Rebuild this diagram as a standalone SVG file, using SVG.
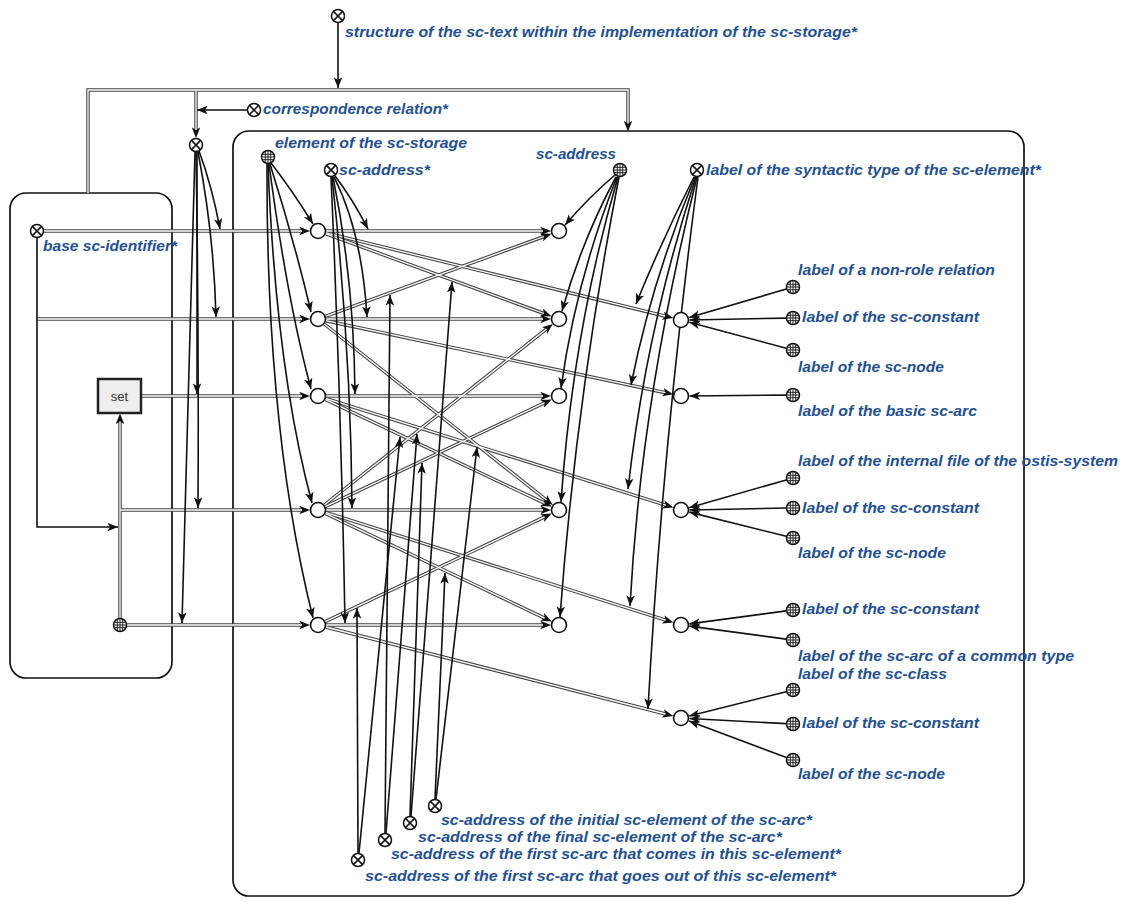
<svg xmlns="http://www.w3.org/2000/svg" xmlns:xlink="http://www.w3.org/1999/xlink" width="1127" height="903" viewBox="0 0 1127 903">
<style>
.lbl{font-family:"Liberation Sans",Arial,sans-serif;font-weight:bold;font-style:italic;font-size:15px;fill:#24508f}
.box{fill:none;stroke:#111;stroke-width:1.7}
.dbo{fill:none;stroke:#444;stroke-width:3.5}
.dbi{fill:none;stroke:#fff;stroke-width:1.3}
.sg{fill:none;stroke:#111;stroke-width:1.6;marker-end:url(#as)}
.nd{fill:#fff;stroke:#111;stroke-width:1.6}
</style>
<defs>
<marker id="ah" viewBox="0 0 10 8" refX="2.5" refY="4" markerWidth="11" markerHeight="8.5" markerUnits="userSpaceOnUse" orient="auto"><path d="M0,0 L10,4 L0,8 L2.5,4 Z" fill="#111"/></marker>
<marker id="as" viewBox="0 0 10 8" refX="10" refY="4" markerWidth="11" markerHeight="8.5" markerUnits="userSpaceOnUse" orient="auto"><path d="M0,0 L10,4 L0,8 L2.5,4 Z" fill="#111"/></marker>
<g id="tup"><circle r="6.5" fill="#fff" stroke="#111" stroke-width="1.5"/><path d="M-4.6,-4.6 L4.6,4.6 M-4.6,4.6 L4.6,-4.6" stroke="#111" stroke-width="1.5"/></g>
<g id="cls"><circle r="6.5" fill="#fff" stroke="#111" stroke-width="1.5"/><path d="M-6.5,0 H6.5 M0,-6.5 V6.5 M-5.9,-2.7 H5.9 M-5.9,2.7 H5.9 M-2.7,-5.9 V5.9 M2.7,-5.9 V5.9" stroke="#111" stroke-width="0.9"/></g>
</defs>
<rect width="1127" height="903" fill="#fff"/>

<g id="box-left"><rect class="box" x="10" y="193" width="162" height="485" rx="16"/></g>
<g id="box-main"><rect class="box" x="233" y="131" width="791" height="765" rx="16"/></g>

<g id="connectors">
<g marker-end="url(#ah)">
<path class="dbo" d="M326,231 H543"/>
<path class="dbo" d="M325.5,233.7 L544,313.5"/>
<path class="dbo" d="M325.8,232.9 L665.5,316.2"/>
<path class="dbo" d="M325.5,316.3 L544,236.5"/>
<path class="dbo" d="M326,319 H543"/>
<path class="dbo" d="M325.8,320.7 L665.4,392.7"/>
<path class="dbo" d="M324.3,324 L546.5,500.1"/>
<path class="dbo" d="M326,396 H543"/>
<path class="dbo" d="M325.2,399.4 L544.5,503.2"/>
<path class="dbo" d="M325.6,398.4 L665.7,505.2"/>
<path class="dbo" d="M324.3,505 L546.5,328.9"/>
<path class="dbo" d="M325.2,506.6 L544.5,402.8"/>
<path class="dbo" d="M326,510 H543"/>
<path class="dbo" d="M325.2,513.4 L544.6,618.1"/>
<path class="dbo" d="M325.6,512.4 L665.7,620.2"/>
<path class="dbo" d="M325.2,621.6 L544.6,516.9"/>
<path class="dbo" d="M326,625 H543"/>
<path class="dbo" d="M325.8,627 L665.5,714"/>
<path class="dbo" d="M44,231 H302"/>
<path class="dbo" d="M37,319 H302"/>
<path class="dbo" d="M141,396 H302"/>
<path class="dbo" d="M120,510 H302"/>
<path class="dbo" d="M127,625 H302"/>
<path class="dbo" d="M120,618 V421.5"/>
<path class="dbo" d="M88,193 V90 H628 V123.5"/>
<path class="dbo" d="M196,90 V130"/>
</g>
<g>
<path class="dbi" d="M326,231 H543"/>
<path class="dbi" d="M325.5,233.7 L544,313.5"/>
<path class="dbi" d="M325.8,232.9 L665.5,316.2"/>
<path class="dbi" d="M325.5,316.3 L544,236.5"/>
<path class="dbi" d="M326,319 H543"/>
<path class="dbi" d="M325.8,320.7 L665.4,392.7"/>
<path class="dbi" d="M324.3,324 L546.5,500.1"/>
<path class="dbi" d="M326,396 H543"/>
<path class="dbi" d="M325.2,399.4 L544.5,503.2"/>
<path class="dbi" d="M325.6,398.4 L665.7,505.2"/>
<path class="dbi" d="M324.3,505 L546.5,328.9"/>
<path class="dbi" d="M325.2,506.6 L544.5,402.8"/>
<path class="dbi" d="M326,510 H543"/>
<path class="dbi" d="M325.2,513.4 L544.6,618.1"/>
<path class="dbi" d="M325.6,512.4 L665.7,620.2"/>
<path class="dbi" d="M325.2,621.6 L544.6,516.9"/>
<path class="dbi" d="M326,625 H543"/>
<path class="dbi" d="M325.8,627 L665.5,714"/>
<path class="dbi" d="M44,231 H302"/>
<path class="dbi" d="M37,319 H302"/>
<path class="dbi" d="M141,396 H302"/>
<path class="dbi" d="M120,510 H302"/>
<path class="dbi" d="M127,625 H302"/>
<path class="dbi" d="M120,618 V421.5"/>
<path class="dbi" d="M88,193 V90 H628 V123.5"/>
<path class="dbi" d="M196,90 V130"/>
</g>
<g>
<path class="sg" d="M338,23 V88"/>
<path class="sg" d="M247,110 H197"/>
<path class="sg" d="M37,238 V527 H118"/>
<path class="sg" d="M199,151 Q212,186 220,229"/>
<path class="sg" d="M198,152 Q214,235 216,317"/>
<path class="sg" d="M197,152 V394"/>
<path class="sg" d="M196,152 Q199,330 198,508"/>
<path class="sg" d="M195,152 Q188,400 182,623"/>
<path class="sg" d="M271,163 Q292,190 313,224"/>
<path class="sg" d="M270,164 Q294,240 311,312"/>
<path class="sg" d="M269,164 Q287,300 311,389"/>
<path class="sg" d="M268,164 Q276,370 312,503"/>
<path class="sg" d="M267,164 Q266,430 313,618"/>
<path class="sg" d="M335,176 Q352,198 368,229"/>
<path class="sg" d="M334,177 Q362,232 367,317"/>
<path class="sg" d="M333,177 Q354,280 355,394"/>
<path class="sg" d="M332,177 Q351,350 352,508"/>
<path class="sg" d="M331,177 Q341,400 345,623"/>
<path class="sg" d="M615,175 Q590,196 565,225"/>
<path class="sg" d="M616,177 Q582,240 562,311"/>
<path class="sg" d="M617,177 Q576,280 561,388"/>
<path class="sg" d="M618,177 Q573,330 561,502"/>
<path class="sg" d="M619,177 Q576,400 560,617"/>
<path class="sg" d="M694,177 Q662,240 636,304"/>
<path class="sg" d="M695,177 Q652,280 631,385"/>
<path class="sg" d="M696,177 Q646,330 628,489"/>
<path class="sg" d="M697,177 Q641,400 630,606"/>
<path class="sg" d="M698,177 Q662,450 648,709"/>
<path class="sg" d="M786.3,289 L689.2,317.6"/>
<path class="sg" d="M786,318.1 L689.5,320"/>
<path class="sg" d="M786.2,348.2 L689.2,322.2"/>
<path class="sg" d="M786,395.1 L689.5,396"/>
<path class="sg" d="M786.3,479.9 L689.2,507.7"/>
<path class="sg" d="M786,508 L689.5,510"/>
<path class="sg" d="M786.2,536.3 L689.2,512.1"/>
<path class="sg" d="M786.1,610.9 L689.4,623.9"/>
<path class="sg" d="M786.1,639.1 L689.4,626.1"/>
<path class="sg" d="M786.2,691.7 L689.2,716"/>
<path class="sg" d="M786,723.6 L689.5,718.5"/>
<path class="sg" d="M786.4,757.5 L689,721"/>
<path class="sg" d="M358,853 L357,608"/>
<path class="sg" d="M359,853 L400,437"/>
<path class="sg" d="M385,833 L390,295"/>
<path class="sg" d="M386,833 L417,434"/>
<path class="sg" d="M410,816 L422,463"/>
<path class="sg" d="M411,816 L452,282"/>
<path class="sg" d="M435,799 L445,573"/>
<path class="sg" d="M436,799 L477,447"/>
</g>
</g>

<g id="n-structure"><use href="#tup" x="338" y="16"/><text class="lbl" x="345" y="37" textLength="512" lengthAdjust="spacingAndGlyphs">structure of the sc-text within the implementation of the sc-storage*</text></g>
<g id="n-corr"><use href="#tup" x="254" y="110"/><text class="lbl" x="263" y="114" textLength="185" lengthAdjust="spacingAndGlyphs">correspondence relation*</text></g>
<g id="n-pair"><use href="#tup" x="196" y="145"/></g>
<g id="n-elem"><use href="#cls" x="268" y="157"/><text class="lbl" x="275" y="148" textLength="192" lengthAdjust="spacingAndGlyphs">element of the sc-storage</text></g>
<g id="n-addrrel"><use href="#tup" x="331" y="170"/><text class="lbl" x="339" y="175" textLength="91" lengthAdjust="spacingAndGlyphs">sc-address*</text></g>
<g id="n-addrcls"><use href="#cls" x="620" y="170"/><text class="lbl" x="536" y="159" textLength="80" lengthAdjust="spacingAndGlyphs">sc-address</text></g>
<g id="n-labelrel"><use href="#tup" x="697" y="170"/><text class="lbl" x="706" y="175" textLength="335" lengthAdjust="spacingAndGlyphs">label of the syntactic type of the sc-element*</text></g>
<g id="n-baseid"><use href="#tup" x="37" y="231"/><text class="lbl" x="43" y="251" textLength="134" lengthAdjust="spacingAndGlyphs">base sc-identifier*</text></g>
<g id="n-set"><rect x="98" y="379" width="43" height="34" fill="#eee" stroke="#222" stroke-width="2.5"/><text x="119.5" y="401" text-anchor="middle" font-family="Liberation Sans, Arial, sans-serif" font-size="13" fill="#333">set</text></g>
<g id="n-g"><use href="#cls" x="120" y="625"/></g>

<g id="e1"><circle class="nd" cx="318" cy="231" r="7.5"/></g>
<g id="e2"><circle class="nd" cx="318" cy="319" r="7.5"/></g>
<g id="e3"><circle class="nd" cx="318" cy="396" r="7.5"/></g>
<g id="e4"><circle class="nd" cx="318" cy="510" r="7.5"/></g>
<g id="e5"><circle class="nd" cx="318" cy="625" r="7.5"/></g>
<g id="a1"><circle class="nd" cx="559" cy="231" r="7.5"/></g>
<g id="a2"><circle class="nd" cx="559" cy="319" r="7.5"/></g>
<g id="a3"><circle class="nd" cx="559" cy="396" r="7.5"/></g>
<g id="a4"><circle class="nd" cx="559" cy="510" r="7.5"/></g>
<g id="a5"><circle class="nd" cx="559" cy="625" r="7.5"/></g>
<g id="t1"><circle class="nd" cx="681" cy="320" r="7.5"/></g>
<g id="t2"><circle class="nd" cx="681" cy="396" r="7.5"/></g>
<g id="t3"><circle class="nd" cx="681" cy="510" r="7.5"/></g>
<g id="t4"><circle class="nd" cx="681" cy="625" r="7.5"/></g>
<g id="t5"><circle class="nd" cx="681" cy="718" r="7.5"/></g>

<g id="r1"><use href="#cls" x="793" y="287"/><text class="lbl" x="798" y="275" textLength="197" lengthAdjust="spacingAndGlyphs">label of a non-role relation</text></g>
<g id="r2"><use href="#cls" x="793" y="318"/><text class="lbl" x="802" y="322" textLength="177" lengthAdjust="spacingAndGlyphs">label of the sc-constant</text></g>
<g id="r3"><use href="#cls" x="793" y="350"/><text class="lbl" x="798" y="372" textLength="146" lengthAdjust="spacingAndGlyphs">label of the sc-node</text></g>
<g id="r4"><use href="#cls" x="793" y="395"/><text class="lbl" x="798" y="416" textLength="179" lengthAdjust="spacingAndGlyphs">label of the basic sc-arc</text></g>
<g id="r5"><use href="#cls" x="793" y="478"/><text class="lbl" x="798" y="466" textLength="320" lengthAdjust="spacingAndGlyphs">label of the internal file of the ostis-system</text></g>
<g id="r6"><use href="#cls" x="793" y="508"/><text class="lbl" x="802" y="513" textLength="177" lengthAdjust="spacingAndGlyphs">label of the sc-constant</text></g>
<g id="r7"><use href="#cls" x="793" y="538"/><text class="lbl" x="798" y="558" textLength="148" lengthAdjust="spacingAndGlyphs">label of the sc-node</text></g>
<g id="r8"><use href="#cls" x="793" y="610"/><text class="lbl" x="802" y="614" textLength="177" lengthAdjust="spacingAndGlyphs">label of the sc-constant</text></g>
<g id="r9"><use href="#cls" x="793" y="640"/><text class="lbl" x="798" y="661" textLength="276" lengthAdjust="spacingAndGlyphs">label of the sc-arc of a common type</text></g>
<g id="r10"><use href="#cls" x="793" y="690"/><text class="lbl" x="798" y="679" textLength="149" lengthAdjust="spacingAndGlyphs">label of the sc-class</text></g>
<g id="r11"><use href="#cls" x="793" y="724"/><text class="lbl" x="802" y="728" textLength="177" lengthAdjust="spacingAndGlyphs">label of the sc-constant</text></g>
<g id="r12"><use href="#cls" x="793" y="760"/><text class="lbl" x="798" y="779" textLength="147" lengthAdjust="spacingAndGlyphs">label of the sc-node</text></g>

<g id="b1"><use href="#tup" x="435" y="806"/><text class="lbl" x="441" y="825" textLength="371" lengthAdjust="spacingAndGlyphs">sc-address of the initial sc-element of the sc-arc*</text></g>
<g id="b2"><use href="#tup" x="410" y="823"/><text class="lbl" x="418" y="842" textLength="364" lengthAdjust="spacingAndGlyphs">sc-address of the final sc-element of the sc-arc*</text></g>
<g id="b3"><use href="#tup" x="385" y="840"/><text class="lbl" x="391" y="859" textLength="450" lengthAdjust="spacingAndGlyphs">sc-address of the first sc-arc that comes in this sc-element*</text></g>
<g id="b4"><use href="#tup" x="358" y="860"/><text class="lbl" x="365" y="881" textLength="471" lengthAdjust="spacingAndGlyphs">sc-address of the first sc-arc that goes out of this sc-element*</text></g>
</svg>
